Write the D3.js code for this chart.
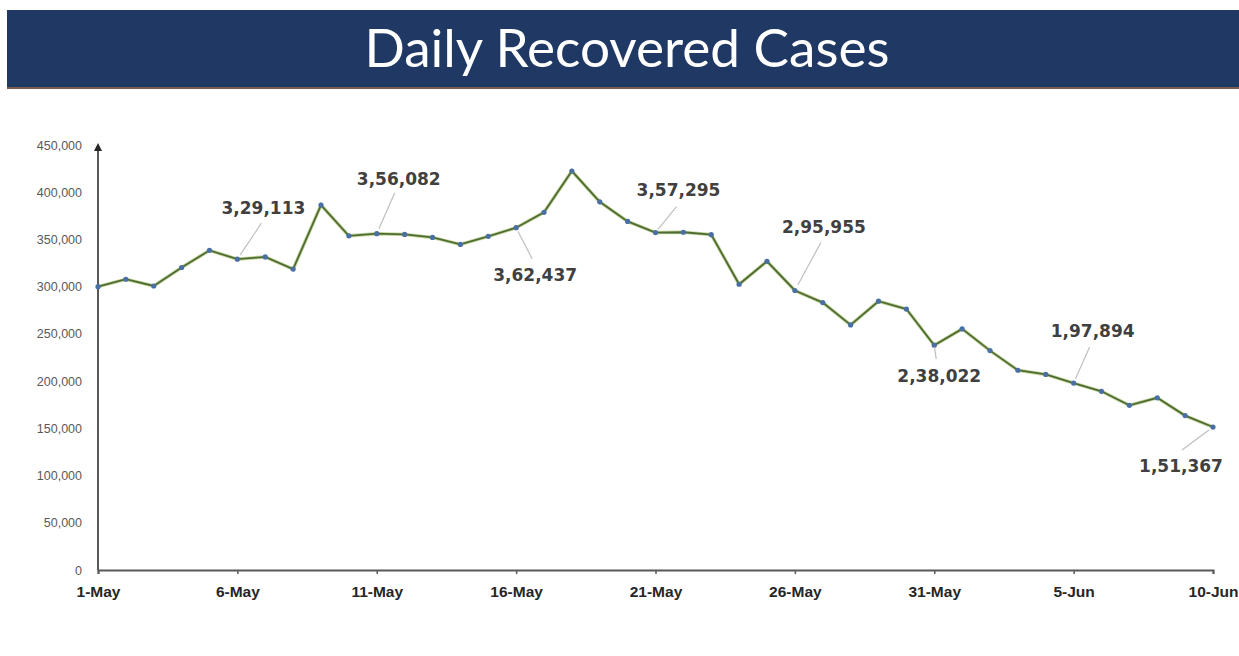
<!DOCTYPE html>
<html lang="en">
<head>
    <meta charset="UTF-8">
    <title>Daily Recovered Cases</title>
    <script src="https://d3js.org/d3.v7.min.js"></script>
    <style>
        body { margin: 0; background: #fff; }
        .y-axis text { font-family: "Liberation Sans", Arial, sans-serif; font-size: 12.5px; fill: #595959; }
        .x-axis text { font-family: "Liberation Sans", Arial, sans-serif; font-size: 15.5px; font-weight: bold; fill: #262626; }
        .label { font-family: "DejaVu Sans", Verdana, sans-serif; font-size: 17px; font-weight: bold; fill: #404040; }
    </style>
</head>
<body>
    <svg id="chart"></svg>

    <script>
        // daily recovered, 1 May - 10 Jun
        const dates = [
            "2021-05-01","2021-05-02","2021-05-03","2021-05-04","2021-05-05","2021-05-06","2021-05-07",
            "2021-05-08","2021-05-09","2021-05-10","2021-05-11","2021-05-12","2021-05-13","2021-05-14",
            "2021-05-15","2021-05-16","2021-05-17","2021-05-18","2021-05-19","2021-05-20","2021-05-21",
            "2021-05-22","2021-05-23","2021-05-24","2021-05-25","2021-05-26","2021-05-27","2021-05-28",
            "2021-05-29","2021-05-30","2021-05-31","2021-06-01","2021-06-02","2021-06-03","2021-06-04",
            "2021-06-05","2021-06-06","2021-06-07","2021-06-08","2021-06-09","2021-06-10"
        ];
        const recovered = [
            299988, 307865, 300732, 320289, 338439, 329113, 331507,
            318609, 386444, 353818, 356082, 355338, 352181, 344776,
            353299, 362437, 378741, 422436, 389851, 369077, 357295,
            357630, 355102, 302544, 326850, 295955, 283135, 259459,
            284601, 276309, 238022, 255287, 232286, 211499, 207071,
            197894, 189232, 174399, 182282, 163463, 151367
        ];
        const xTickLabels = ["1-May", "6-May", "11-May", "16-May", "21-May", "26-May", "31-May", "5-Jun", "10-Jun"];
        const yTicks = [0, 50000, 100000, 150000, 200000, 250000, 300000, 350000, 400000, 450000];
        const labelIndex = [5, 10, 15, 20, 25, 30, 35, 40];
        const labelText = ["3,29,113", "3,56,082", "3,62,437", "3,57,295", "2,95,955", "2,38,022", "1,97,894", "1,51,367"];

        // label placement relative to its point: [text dx, text dy, leader end dx, leader end dy]
        const labelPlace = [
            [26, -45, 24, -36],
            [22, -49, 18, -41],
            [19, 53, 16, 31],
            [23, -37, 21, -26],
            [29, -57, 26, -48],
            [5, 37, 2, 14],
            [19, -46, 16, -36],
            [-32, 45, -31, 23]
        ];

        const parse = d3.timeParse("%Y-%m-%d");
        const data = dates.map((d, i) => ({ date: parse(d), value: recovered[i] }));

        const width = 1239, height = 656;
        const margin = { top: 145, right: 26, bottom: 86, left: 98 };

        const svg = d3.select("#chart")
            .attr("width", width)
            .attr("height", height);

        // title banner
        svg.append("rect")
            .attr("x", 7).attr("y", 10)
            .attr("width", width - 7).attr("height", 77)
            .attr("fill", "#1f3864");
        svg.append("rect")
            .attr("x", 7).attr("y", 87)
            .attr("width", width - 7).attr("height", 2)
            .attr("fill", "#7d5a4f");
        svg.append("text")
            .attr("x", 627).attr("y", 67)
            .attr("text-anchor", "middle")
            .attr("textLength", 525)
            .attr("lengthAdjust", "spacingAndGlyphs")
            .style("font-family", "Lato, 'Open Sans', sans-serif")
            .style("font-size", "52px")
            .style("fill", "#fff")
            .text("Daily Recovered Cases");

        const x = d3.scaleTime()
            .domain(d3.extent(data, d => d.date))
            .range([margin.left, width - margin.right]);

        const y = d3.scaleLinear()
            .domain([0, 450000])
            .range([height - margin.bottom, margin.top]);

        // arrow on the y axis
        svg.append("defs").append("marker")
            .attr("id", "arrow")
            .attr("viewBox", "0 0 10 10")
            .attr("refX", 5).attr("refY", 5)
            .attr("markerWidth", 4).attr("markerHeight", 4)
            .attr("orient", "auto-start-reverse")
            .append("path")
            .attr("d", "M0,0L10,5L0,10z")
            .attr("fill", "#262626");

        const yAxis = svg.append("g")
            .attr("class", "y-axis")
            .attr("transform", `translate(${margin.left},0)`)
            .call(d3.axisLeft(y).tickValues(yTicks).tickSize(0).tickPadding(16).tickFormat(d3.format(",")));
        yAxis.select(".domain").remove();
        svg.append("line")
            .attr("x1", margin.left).attr("x2", margin.left)
            .attr("y1", y(0)).attr("y2", y(450000) + 2)
            .attr("stroke", "#595959")
            .attr("stroke-width", 2)
            .attr("marker-end", "url(#arrow)");

        const xTickDates = xTickLabels.map((d, i) => data[i * 5].date);
        const xAxis = svg.append("g")
            .attr("class", "x-axis")
            .attr("transform", `translate(0,${y(0)})`)
            .call(d3.axisBottom(x).tickValues(xTickDates).tickSize(4).tickPadding(12).tickSizeOuter(4)
                .tickFormat((d, i) => xTickLabels[i]));
        xAxis.select(".domain").attr("stroke", "#595959").attr("stroke-width", 2);
        xAxis.selectAll(".tick line").attr("stroke", "#595959").attr("stroke-width", 1.5);

        // line
        const line = d3.line()
            .x(d => x(d.date))
            .y(d => y(d.value));

        svg.append("path")
            .datum(data)
            .attr("fill", "none")
            .attr("stroke", "#9bbb59")
            .attr("stroke-width", 3.5)
            .attr("stroke-opacity", 0.6)
            .attr("d", line);
        svg.append("path")
            .datum(data)
            .attr("fill", "none")
            .attr("stroke", "#4f6b34")
            .attr("stroke-width", 1.8)
            .attr("d", line);

        svg.selectAll(".dot")
            .data(data)
            .join("circle")
            .attr("class", "dot")
            .attr("cx", d => x(d.date))
            .attr("cy", d => y(d.value))
            .attr("r", 2.6)
            .attr("fill", "#4a6fa5");

        // data labels with leader lines
        const labels = svg.selectAll(".label-group")
            .data(labelIndex)
            .join("g")
            .attr("class", "label-group")
            .attr("transform", d => `translate(${x(data[d].date)},${y(data[d].value)})`);

        labels.append("line")
            .attr("x1", (d, i) => labelPlace[i][2] * 0.12)
            .attr("y1", (d, i) => labelPlace[i][3] * 0.12)
            .attr("x2", (d, i) => labelPlace[i][2])
            .attr("y2", (d, i) => labelPlace[i][3])
            .attr("stroke", "#bfbfbf")
            .attr("stroke-width", 1.2);

        labels.append("text")
            .attr("class", "label")
            .attr("x", (d, i) => labelPlace[i][0])
            .attr("y", (d, i) => labelPlace[i][1])
            .attr("text-anchor", "middle")
            .text((d, i) => labelText[i]);
    </script>
</body>
</html>
